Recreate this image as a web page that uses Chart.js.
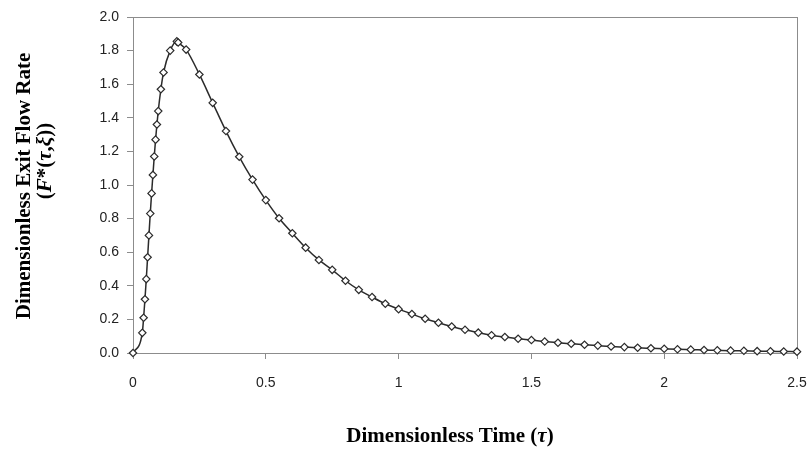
<!DOCTYPE html>
<html>
<head>
<meta charset="utf-8">
<script src="https://cdn.jsdelivr.net/npm/chart.js@4.4.1/dist/chart.umd.min.js"></script>
<style>
  html, body { margin: 0; padding: 0; background: #ffffff; }
  #wrap { width: 811px; height: 450px; position: relative; }
</style>
</head>
<body>
<div id="wrap"><canvas id="c" width="811" height="450"></canvas></div>
<script>
// Dimensionless time (tau) values of the plotted points
const tauValues = [
  0, 0.035, 0.04, 0.045, 0.05, 0.055, 0.06, 0.065, 0.07, 0.075, 0.08, 0.085, 0.09, 0.095,
  0.105, 0.115, 0.14, 0.165, 0.17,
  0.2, 0.25, 0.3, 0.35, 0.4, 0.45, 0.5, 0.55, 0.6, 0.65, 0.7, 0.75, 0.8, 0.85, 0.9, 0.95,
  1.0, 1.05, 1.1, 1.15, 1.2, 1.25, 1.3, 1.35, 1.4, 1.45, 1.5, 1.55, 1.6, 1.65, 1.7, 1.75,
  1.8, 1.85, 1.9, 1.95, 2.0, 2.05, 2.1, 2.15, 2.2, 2.25, 2.3, 2.35, 2.4, 2.45, 2.5
];
// Dimensionless exit flow rate F*(tau, xi)
const flowValues = [
  0, 0.12, 0.21, 0.32, 0.44, 0.57, 0.70, 0.83, 0.95, 1.06, 1.17, 1.27, 1.36, 1.44,
  1.57, 1.67, 1.80, 1.855, 1.848,
  1.806, 1.658, 1.489, 1.321, 1.168, 1.032, 0.910, 0.802, 0.713, 0.627, 0.554, 0.495, 0.430, 0.376, 0.333, 0.293,
  0.261, 0.232, 0.204, 0.180, 0.158, 0.138, 0.121, 0.106, 0.095, 0.085, 0.077, 0.068, 0.061, 0.055, 0.049, 0.044,
  0.039, 0.035, 0.031, 0.028, 0.025, 0.022, 0.020, 0.018, 0.016, 0.014, 0.013, 0.011, 0.010, 0.009, 0.008
];
const xTickValues = [0, 0.5, 1, 1.5, 2, 2.5];
const yTickValues = [0, 0.2, 0.4, 0.6, 0.8, 1.0, 1.2, 1.4, 1.6, 1.8, 2.0];
// Axis titles as [text, italic?] pieces
const xAxisTitle = [['Dimensionless Time (', false], ['\u03C4', true], [')', false]];
const yAxisTitleLine1 = [['Dimensionless Exit Flow Rate', false]];
const yAxisTitleLine2 = [['(', false], ['F', true], ['*(', false], ['\u03C4', true], [',', false], ['\u03BE', true], ['))', false]];

const points = tauValues.map((t, i) => ({ x: t, y: flowValues[i] }));

const SERIF = "'Liberation Serif', 'Times New Roman', serif";
const TITLE_SIZE = 21;

function drawPieces(ctx, pieces, cx, cy, rotation) {
  ctx.save();
  ctx.translate(cx, cy);
  ctx.rotate(rotation);
  ctx.fillStyle = '#000000';
  ctx.textBaseline = 'middle';
  ctx.textAlign = 'left';
  const fontFor = (it) => (it ? 'italic ' : '') + 'bold ' + TITLE_SIZE + 'px ' + SERIF;
  let total = 0;
  pieces.forEach(([t, it]) => { ctx.font = fontFor(it); total += ctx.measureText(t).width; });
  let x = -total / 2;
  pieces.forEach(([t, it]) => {
    ctx.font = fontFor(it);
    ctx.fillText(t, x, 0);
    x += ctx.measureText(t).width;
  });
  ctx.restore();
}

const boxPlugin = {
  id: 'box',
  beforeDatasetsDraw(chart) {
    const a = chart.chartArea;
    const ctx = chart.ctx;
    ctx.save();
    ctx.strokeStyle = '#8c8c8c';
    ctx.lineWidth = 1;
    ctx.strokeRect(Math.round(a.left) + 0.5, Math.round(a.top) + 0.5,
                   Math.round(a.right - a.left), Math.round(a.bottom - a.top));
    ctx.restore();
  },
  afterDraw(chart) {
    const ctx = chart.ctx;
    const a = chart.chartArea;
    const midY = (a.top + a.bottom) / 2;
    drawPieces(ctx, yAxisTitleLine1, 25, midY + 1, -Math.PI / 2);
    drawPieces(ctx, yAxisTitleLine2, 46, midY - 24, -Math.PI / 2);
    drawPieces(ctx, xAxisTitle, 450, 437, 0);
  }
};

const tickFont = { family: "'Liberation Sans', Arial, sans-serif", size: 14 };

new Chart(document.getElementById('c'), {
  type: 'line',
  data: {
    datasets: [{
      data: points,
      borderColor: '#2b2b2b',
      borderWidth: 1.5,
      pointStyle: 'rectRot',
      pointRadius: 3.7,
      pointBorderWidth: 1.2,
      pointBackgroundColor: '#ffffff',
      pointBorderColor: '#2b2b2b',
      cubicInterpolationMode: 'monotone',
      clip: false
    }]
  },
  plugins: [boxPlugin],
  options: {
    responsive: false,
    animation: false,
    devicePixelRatio: 1,
    layout: { padding: { top: 17, right: 14, left: 0, bottom: 0 } },
    plugins: { legend: { display: false }, tooltip: { enabled: false } },
    scales: {
      x: {
        type: 'linear',
        min: 0, max: 2.5,
        afterBuildTicks(scale) { scale.ticks = xTickValues.map(v => ({ value: v })); },
        afterFit(scale) { scale.height = 97; scale.paddingLeft = 0; scale.paddingRight = 0; },
        ticks: {
          font: tickFont, color: '#222222', padding: 16, maxRotation: 0,
          callback: (v) => String(Number(v.toFixed(1)))
        },
        grid: { drawOnChartArea: false, drawTicks: true, tickLength: 6, color: '#8c8c8c' },
        border: { display: true, color: '#8c8c8c' },
        title: { display: false }
      },
      y: {
        type: 'linear',
        min: 0, max: 2.0,
        afterBuildTicks(scale) { scale.ticks = yTickValues.map(v => ({ value: v })); },
        afterFit(scale) { scale.width = 133; scale.paddingTop = 0; scale.paddingBottom = 0; },
        ticks: {
          font: tickFont, color: '#222222', padding: 8,
          callback: (v) => Number(v).toFixed(1)
        },
        grid: { drawOnChartArea: false, drawTicks: true, tickLength: 6, color: '#8c8c8c' },
        border: { display: true, color: '#8c8c8c' },
        title: { display: false }
      }
    }
  }
});
</script>
</body>
</html>
